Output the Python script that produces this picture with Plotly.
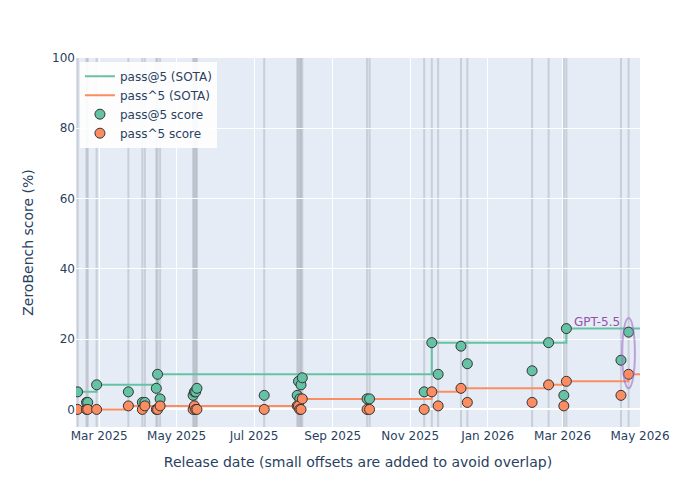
import numpy as np
import pandas as pd
import plotly.graph_objects as go

# ---- data ----
release_dates = [
    "2025-02-12", "2025-02-19", "2025-02-20", "2025-02-27", "2025-03-24",
    "2025-04-04", "2025-04-06", "2025-04-15", "2025-04-16", "2025-04-18",
    "2025-05-14", "2025-05-15", "2025-05-16", "2025-05-17", "2025-07-09",
    "2025-08-04", "2025-08-05", "2025-08-06", "2025-08-07", "2025-08-08",
    "2025-09-28", "2025-09-30", "2025-11-12", "2025-11-18", "2025-11-23",
    "2025-12-11", "2025-12-16", "2026-02-05", "2026-02-18", "2026-03-02",
    "2026-03-04", "2026-04-16", "2026-04-22",
]
pass_at5 = [5, 2, 2, 7, 5,
            2, 2, 6, 10, 3,
            4, 5, 5, 6, 4,
            4, 8, 3, 7, 9,
            3, 3, 5, 19, 10,
            18, 13, 11, 19, 4,
            23, 14, 22]
pass_hat5 = [0, 0, 0, 0, 1,
             0, 1, 0, 0, 1,
             0, 1, 0, 0, 0,
             1, 1, 0, 0, 3,
             0, 0, 0, 5, 1,
             6, 2, 2, 7, 1,
             8, 4, 10]
highlight_model = "GPT-5.5"
highlight_date = "2026-04-22"
x_range = ["2025-02-10 18:00", "2026-05-01"]

GREEN = "#66c2a5"
ORANGE = "#fc8d62"

df = pd.DataFrame({"date": pd.to_datetime(release_dates),
                   "p5": pass_at5, "ph5": pass_hat5}).sort_values("date")
sota_dates = list(df["date"]) + [pd.Timestamp(x_range[1])]
sota_p5 = list(df["p5"].cummax()) + [df["p5"].max()]
sota_ph5 = list(df["ph5"].cummax()) + [df["ph5"].max()]

fig = go.Figure()

for d in release_dates:
    fig.add_shape(type="line", xref="x", yref="paper", x0=d, x1=d, y0=0, y1=1,
                  line=dict(color="rgba(120,120,130,0.25)", width=2), layer="below")

fig.add_trace(go.Scatter(x=sota_dates, y=sota_p5, mode="lines", line_shape="hv",
                         line=dict(color=GREEN, width=2), name="pass@5 (SOTA)"))
fig.add_trace(go.Scatter(x=sota_dates, y=sota_ph5, mode="lines", line_shape="hv",
                         line=dict(color=ORANGE, width=2), name="pass^5 (SOTA)"))
fig.add_trace(go.Scatter(x=release_dates, y=pass_at5, mode="markers",
                         marker=dict(color=GREEN, size=10, line=dict(color="#333333", width=1)),
                         name="pass@5 score"))
fig.add_trace(go.Scatter(x=release_dates, y=pass_hat5, mode="markers",
                         marker=dict(color=ORANGE, size=10, line=dict(color="#333333", width=1)),
                         name="pass^5 score"))

hd = pd.Timestamp(highlight_date)
idx = release_dates.index(highlight_date)
lo, hi = pass_hat5[idx], pass_at5[idx]
fig.add_shape(type="circle", xref="x", yref="y",
              x0=hd - pd.Timedelta(days=5), x1=hd + pd.Timedelta(days=5),
              y0=lo - 4, y1=hi + 4,
              line=dict(color="rgba(160,110,200,0.6)", width=2))
fig.add_annotation(x=highlight_date, y=hi + 3, text=highlight_model, showarrow=False,
                   xanchor="right", yanchor="middle", xshift=-7,
                   font=dict(color="rgb(150,80,170)", size=12))

fig.update_layout(
    template="plotly",
    width=680, height=486,
    margin=dict(l=68, r=48, t=50, b=67),
    font=dict(family="DejaVu Sans", size=12),
    legend=dict(x=0.007, y=0.99, xanchor="left", yanchor="top",
                bgcolor="rgba(255,255,255,0.9)"),
    xaxis=dict(title=dict(text="Release date (small offsets are added to avoid overlap)"),
               range=x_range, dtick="M2", tickformat="%b %Y"),
    yaxis=dict(title=dict(text="ZeroBench score (%)"), range=[-5, 100], dtick=20),
)

fig.write_html("out.html")
